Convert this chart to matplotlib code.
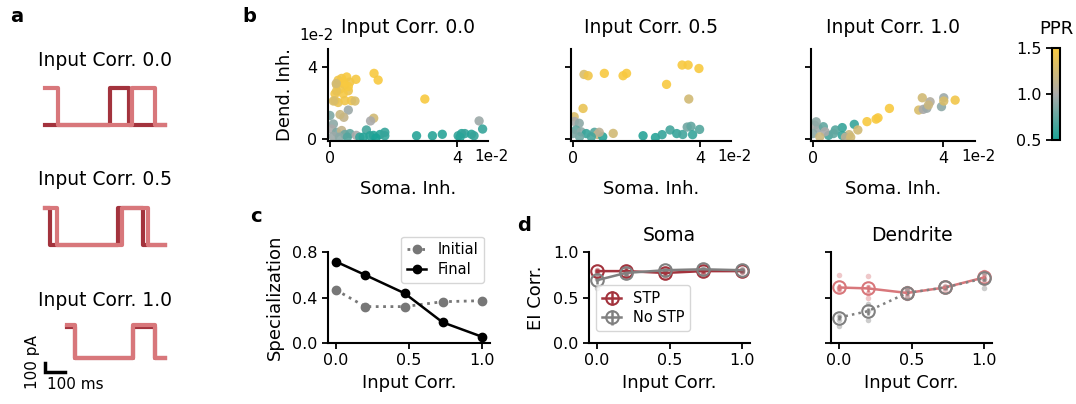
import numpy as np
import matplotlib.pyplot as plt
from matplotlib.colors import LinearSegmentedColormap, Normalize
from matplotlib.cm import ScalarMappable

W, H = 1076, 404

# ---- panel a: example traces (time in ms, current in pA) ----
tr_titles = ["Input Corr. 0.0", "Input Corr. 0.5", "Input Corr. 1.0"]
light_t = [[0, 65, 65, 435, 435, 550, 550, 600],
           [0, 60, 60, 385, 385, 515, 515, 600],
           [110, 150, 150, 440, 440, 550, 550, 600]]
light_v = [[400, 400, 0, 0, 400, 400, 0, 0],
           [400, 400, 0, 0, 400, 400, 0, 0],
           [360, 360, 0, 0, 360, 360, 0, 0]]
dark_t = [[0, 325, 325, 420, 420, 600],
          [0, 25, 25, 365, 365, 490, 490, 600],
          [110, 150, 150, 440, 440, 550, 550, 600]]
dark_v = [[0, 0, 400, 400, 0, 0],
          [400, 400, 0, 0, 400, 400, 0, 0],
          [340, 340, 0, 0, 330, 330, 0, 0]]

# ---- panel b: somatic vs dendritic inhibition (units of 1e-2), PPR ----
b_titles = ["Input Corr. 0.0", "Input Corr. 0.5", "Input Corr. 1.0"]
b_x0 = [0.26, 0.37, 0.53, 0.63, 0.82, 0.21, 0.47, 0.32, 0.58, 0.16, 0.42, 0.16, 0.26, 0.47, 0.68,
        0.79, 0.21, 0.11, 0.58, 0.42, 0.2, 1.39, 1.52, 2.99, 0.58, 0.44, 0.32, 1.38, 1.28,
        0.0, 0.11, 0.05, 0.21, 0.37, 0.47, 0.63, 0.1, 0.3, 0.55, 0.83, 0.94,
        1.15, 1.37, 1.58, 1.73, 1.73, 1.26, 1.05, 1.45,
        2.73, 3.23, 3.54, 4.04, 4.15, 4.25, 4.46, 4.54, 4.1, 4.7, 4.81]
b_y0 = [3.25, 3.35, 3.43, 3.15, 3.3, 3.0, 3.0, 2.76, 2.67, 2.5, 2.5, 2.12, 2.02, 2.12, 2.12,
        2.1, 2.65, 2.1, 2.9, 3.15, 3.07, 3.63, 3.26, 2.21, 1.6, 1.2, 1.35, 1.15, 1.0,
        1.3, 0.83, 0.55, 0.37, 0.47, 0.25, 0.3, 0.15, 0.1, 0.1, 0.2, 0.1,
        0.5, 0.2, 0.25, 0.37, 0.18, 0.18, 0.1, 0.05,
        0.18, 0.18, 0.26, 0.18, 0.3, 0.3, 0.26, 0.18, 0.1, 1.0, 0.55]
b_c0 = [1.45, 1.45, 1.5, 1.45, 1.48, 1.4, 1.5, 1.45, 1.42, 1.45, 1.48, 1.35, 1.4, 1.45, 1.45,
        1.3, 1.4, 1.3, 1.5, 1.5, 1.25, 1.5, 1.5, 1.5, 0.95, 1.15, 1.2, 1.25, 1.0,
        0.85, 0.9, 1.0, 0.85, 1.15, 0.8, 0.75, 0.95, 0.9, 0.7, 1.0, 0.6,
        0.65, 0.55, 0.55, 0.6, 0.6, 0.55, 0.55, 0.5,
        0.55, 0.55, 0.55, 0.6, 0.55, 0.6, 0.55, 0.6, 0.55, 0.95, 0.6]
b_x1 = [0.35, 0.48, 0.99, 1.58, 1.69, 2.95, 3.44, 3.63, 3.97,
        3.65, 0.32, 1.27, 0.04,
        2.21, 2.6, 2.81, 3.06, 3.27, 3.46, 3.6, 3.72, 3.77, 3.99,
        0.05, 0.2, 0.1, 0.26, 0.42, 0.68, 0.78, 0.94, 0.83, 0.21, 0.58, 0.0]
b_y1 = [3.57, 3.5, 3.63, 3.5, 3.63, 3.02, 4.09, 4.09, 3.9,
        2.21, 1.69, 0.31, 1.23,
        0.18, 0.08, 0.24, 0.5, 0.3, 0.25, 0.66, 0.7, 0.24, 0.53,
        0.97, 0.87, 0.5, 0.4, 0.3, 0.37, 0.25, 0.12, 0.37, 0.12, 0.12, 0.3]
b_c1 = [1.3, 1.45, 1.5, 1.5, 1.5, 1.5, 1.5, 1.5, 1.5,
        1.25, 1.4, 1.25, 1.3,
        0.55, 0.55, 0.6, 0.65, 0.6, 0.65, 0.8, 0.75, 0.6, 0.7,
        1.0, 0.9, 0.75, 0.9, 0.6, 0.7, 1.2, 0.55, 1.1, 0.8, 0.65, 0.85]
b_x2 = [1.66, 1.94, 2.0, 2.35, 4.37,
        3.36, 3.25, 3.39, 3.5, 3.6, 3.55, 3.95, 4.02, 4.02,
        1.27, 0.9, 0.69, 1.38, 1.11, 0.48, 0.05, 0.16, 0.32, 0.37, 0.0, 0.21, 0.63, 0.9,
        1.0, 1.16, 0.1]
b_y2 = [0.96, 1.1, 1.17, 1.69, 2.15,
        2.28, 1.6, 1.64, 1.7, 2.06, 1.88, 1.79, 2.28, 2.1,
        0.81, 0.63, 0.5, 0.5, 0.24, 0.2, 0.77, 0.6, 0.68, 0.4, 0.3, 0.12, 0.3, 0.2,
        0.1, 0.1, 0.95]
b_c2 = [1.5, 1.5, 1.5, 1.5, 1.45,
        1.25, 1.3, 1.0, 0.95, 1.05, 1.2, 0.9, 0.95, 1.3,
        0.6, 0.6, 0.7, 1.25, 1.2, 0.65, 1.0, 0.95, 0.75, 1.0, 0.9, 1.2, 0.75, 0.6,
        1.1, 1.25, 0.9]
b_xs = [b_x0, b_x1, b_x2]
b_ys = [b_y0, b_y1, b_y2]
b_cs = [b_c0, b_c1, b_c2]

# ---- panel c: specialization ----
corr = [0.0, 0.2, 0.47, 0.73, 1.0]
spec_initial = [0.466, 0.32, 0.32, 0.363, 0.372]
spec_final = [0.715, 0.598, 0.437, 0.182, 0.055]

# ---- panel d: EI correlation ----
soma_stp = [0.79, 0.79, 0.77, 0.79, 0.79]
soma_stp_err = [0.02, 0.03, 0.02, 0.02, 0.015]
soma_nostp = [0.69, 0.77, 0.80, 0.81, 0.80]
soma_nostp_err = [0.04, 0.03, 0.015, 0.015, 0.015]
soma_stp_pts = [[0.77, 0.8, 0.79], [0.76, 0.83, 0.78], [0.74, 0.79, 0.77], [0.76, 0.8, 0.78], [0.78, 0.8, 0.79]]
soma_nostp_pts = [[0.6, 0.72, 0.7], [0.73, 0.8, 0.76], [0.78, 0.81, 0.8], [0.8, 0.82, 0.81], [0.79, 0.81, 0.8]]
dend_stp = [0.61, 0.60, 0.55, 0.61, 0.72]
dend_stp_err = [0.04, 0.04, 0.02, 0.02, 0.03]
dend_nostp = [0.28, 0.35, 0.55, 0.61, 0.71]
dend_nostp_err = [0.03, 0.04, 0.02, 0.02, 0.03]
dend_stp_pts = [[0.75, 0.58, 0.62, 0.6], [0.74, 0.55, 0.5, 0.62], [0.58, 0.52, 0.55], [0.63, 0.58, 0.62], [0.78, 0.66, 0.74, 0.7]]
dend_nostp_pts = [[0.19, 0.3, 0.25], [0.25, 0.43, 0.35], [0.5, 0.57, 0.6], [0.6, 0.62], [0.6, 0.77, 0.7]]

DARK = "#a3333d"
LIGHT = "#d8777b"
GRAY = "#808080"
cmap = LinearSegmentedColormap.from_list("ppr", ["#1aa396", "#aaaaaa", "#f8c940"])
norm = Normalize(0.5, 1.5)

plt.rcParams["font.family"] = "DejaVu Sans"
plt.rcParams["axes.linewidth"] = 1.5
plt.rcParams["xtick.major.width"] = 1.3
plt.rcParams["ytick.major.width"] = 1.3
plt.rcParams["xtick.major.size"] = 4
plt.rcParams["ytick.major.size"] = 4
plt.rcParams["xtick.labelsize"] = 11.5
plt.rcParams["ytick.labelsize"] = 11.5

fig = plt.figure(figsize=(W / 100, H / 100), dpi=100)


def px(l, t, r, b):
    return [l / W, 1 - b / H, (r - l) / W, (b - t) / H]


def clean(ax):
    ax.spines["top"].set_visible(False)
    ax.spines["right"].set_visible(False)


# panel a
a_tops = [82.4, 202.4, 315.4]
a_titles_y = [60, 180, 300]
for i in range(3):
    ax = fig.add_axes(px(45, a_tops[i], 165, a_tops[i] + 48.1))
    ax.plot(dark_t[i], dark_v[i], color=DARK, lw=3, clip_on=False)
    ax.plot(light_t[i], light_v[i], color=LIGHT, lw=3, clip_on=False)
    ax.set_xlim(0, 600)
    ax.set_ylim(-60, 460)
    ax.axis("off")
    fig.text(105 / W, 1 - a_titles_y[i] / H, tr_titles[i], ha="center", va="center", fontsize=13.5)
    if i == 2:
        ax.plot([0, 0, 100], [-50, -150, -150], color="black", lw=2.5, clip_on=False,
                solid_joinstyle="miter")
        ax.text(-62, -40, "100 pA", rotation=90, ha="center", va="center", fontsize=11)
        ax.text(150, -290, "100 ms", ha="center", va="center", fontsize=11)

# panel b
b_rects = [(328, 488), (571, 731), (811, 975)]
for i in range(3):
    l, r = b_rects[i]
    ax = fig.add_axes(px(l, 48.6, r, 140.8))
    ax.scatter(b_xs[i], b_ys[i], c=b_cs[i], cmap=cmap, norm=norm, s=45, alpha=0.9, lw=0)
    ax.set_xlim(-0.06, 4.98)
    ax.set_ylim(-0.1, 5.0)
    ax.set_xticks([0, 4])
    ax.set_xticklabels(["0", "4"])
    ax.set_yticks([0, 4])
    clean(ax)
    ax.set_title(b_titles[i], fontsize=13.5, pad=11)
    ax.set_xlabel("Soma. Inh.", fontsize=13, labelpad=10)
    ax.text(1.02, -0.17, "1e-2", transform=ax.transAxes, ha="center", va="center", fontsize=11)
    if i == 0:
        ax.set_yticklabels(["0", "4"])
        ax.set_ylabel("Dend. Inh.", fontsize=13, labelpad=10)
        ax.text(-0.07, 1.14, "1e-2", transform=ax.transAxes, ha="center", va="center", fontsize=11)
    else:
        ax.set_yticklabels([])

cax = fig.add_axes(px(1052, 48, 1060, 140))
cb = fig.colorbar(ScalarMappable(norm=norm, cmap=cmap), cax=cax, ticks=[0.5, 1.0, 1.5])
cax.yaxis.set_ticks_position("left")
cax.set_yticklabels(["0.5", "1.0", "1.5"])
cb.outline.set_linewidth(1.5)
cax.set_title("PPR", fontsize=13, pad=10)

# panel c
ax = fig.add_axes(px(328, 252, 490, 343))
ax.plot(corr, spec_initial, ":", marker="o", color="#777777", lw=2, ms=6, label="Initial")
ax.plot(corr, spec_final, "-", marker="o", color="black", lw=1.8, ms=6, label="Final")
ax.set_xlim(-0.055, 1.055)
ax.set_ylim(0, 0.8)
ax.set_xticks([0, 0.5, 1.0])
ax.set_yticks([0, 0.4, 0.8])
clean(ax)
ax.set_xlabel("Input Corr.", fontsize=13)
ax.set_ylabel("Specialization", fontsize=13, labelpad=6)
ax.legend(loc="upper right", bbox_to_anchor=(1.01, 1.25), fontsize=10.5, handlelength=1.3,
          borderpad=0.4, labelspacing=0.3)

# panel d
d_sets = [
    ("Soma", (589, 750), [(soma_stp, soma_stp_err, soma_stp_pts, DARK, "-", "STP"),
                          (soma_nostp, soma_nostp_err, soma_nostp_pts, GRAY, "-", "No STP")]),
    ("Dendrite", (831, 992), [(dend_stp, dend_stp_err, dend_stp_pts, LIGHT, "-", "STP"),
                              (dend_nostp, dend_nostp_err, dend_nostp_pts, GRAY, ":", "No STP")]),
]
for k, (title, (l, r), series) in enumerate(d_sets):
    ax = fig.add_axes(px(l, 252, r, 343))
    for mean, err, pts, col, ls, lab in series:
        for xi, p in zip(corr, pts):
            ax.scatter([xi] * len(p), p, s=16, color=col, alpha=0.4, lw=0)
        ax.errorbar(corr, mean, yerr=err, color=col, ls=ls, lw=1.8, marker="o", ms=9,
                    mfc="none", mew=1.5, capsize=0, label=lab)
    ax.set_xlim(-0.055, 1.055)
    ax.set_ylim(0, 1)
    ax.set_xticks([0, 0.5, 1.0])
    ax.set_yticks([0, 0.5, 1.0])
    clean(ax)
    ax.set_title(title, fontsize=13.5, pad=8)
    ax.set_xlabel("Input Corr.", fontsize=13)
    if k == 0:
        ax.set_ylabel("EI Corr.", fontsize=13, labelpad=6)
        ax.legend(loc="lower left", bbox_to_anchor=(0.0, 0.05), fontsize=10.5, handlelength=1.3,
                  borderpad=0.4, labelspacing=0.3)
    else:
        ax.set_yticklabels([])

# panel letters
for lab, x, y in [("a", 17, 17), ("b", 249, 17), ("c", 256, 217), ("d", 524, 225)]:
    fig.text(x / W, 1 - y / H, lab, fontsize=14, fontweight="bold", ha="center", va="center")

fig.savefig("out.png", dpi=100)
